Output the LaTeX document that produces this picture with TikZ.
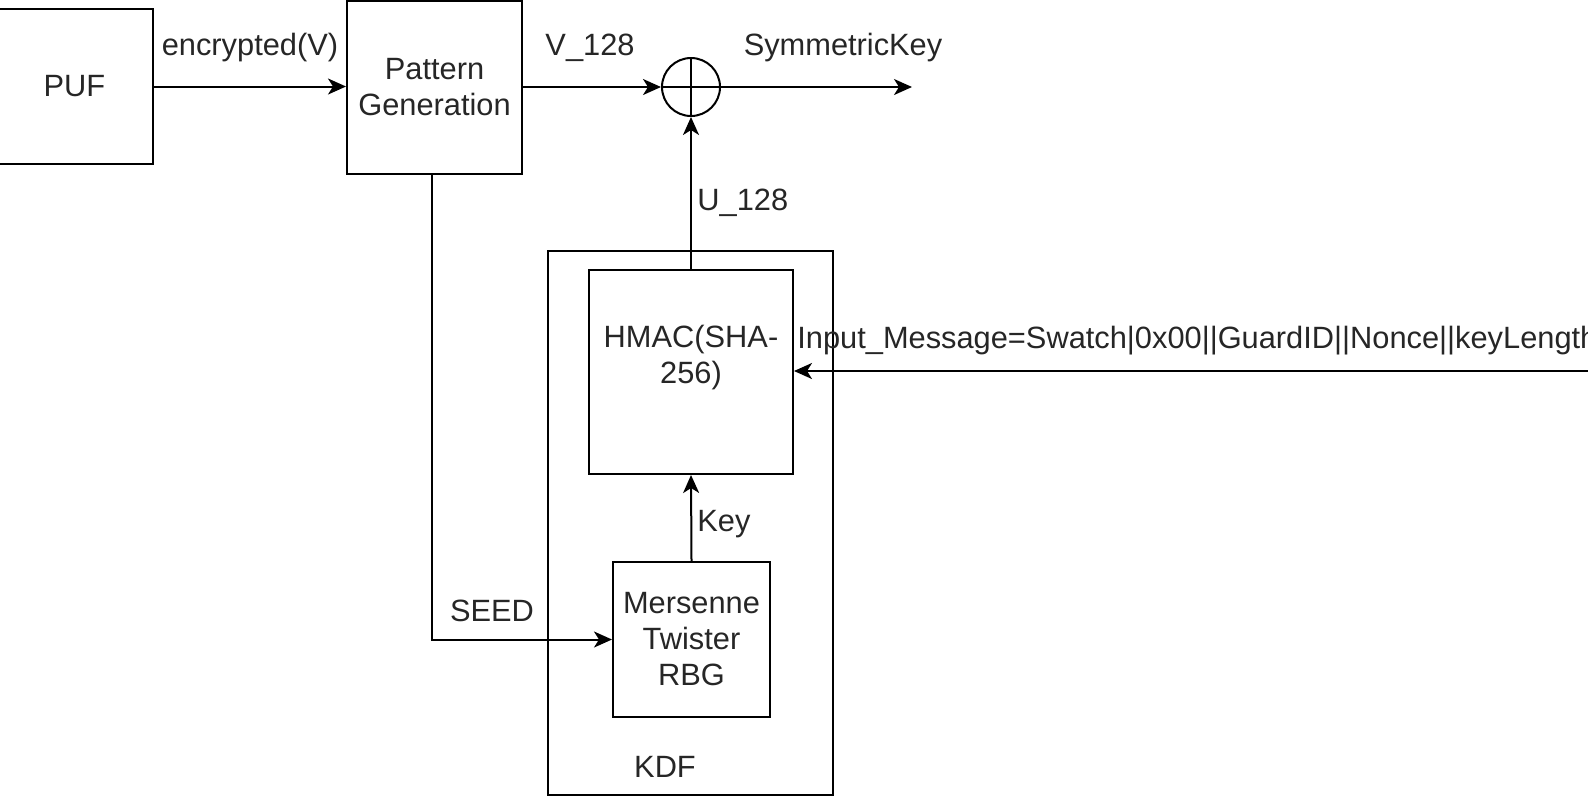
\documentclass[tikz,border=0pt]{standalone}
\usepackage{fontspec}
\setmainfont{Liberation Sans}
\usetikzlibrary{arrows.meta}
\begin{document}
\begin{tikzpicture}[x=0.5pt,y=-0.5pt,
  box/.style={draw, line width=1pt, inner sep=0pt, align=center, font=\fontsize{15.4}{18}\selectfont, text=black!85},
  lbl/.style={inner sep=0pt, font=\fontsize{15.4}{18}\selectfont, text=black!85},
  conn/.style={line width=1pt, -{Stealth[length=9pt,width=8pt,inset=2.5pt]}}
]
\useasboundingbox (0,0) rectangle (1588,810);
\clip (0,0) rectangle (1588,810);
\node[box, minimum width=78.5pt, minimum height=77.5pt] (puf) at (74.5,86.5) {PUF};
\node[box, minimum width=87.5pt, minimum height=86.5pt] (pg) at (434.5,87.5) {Pattern\\Generation};
\node[draw, line width=1pt, circle, minimum size=29pt, inner sep=0pt] (xor) at (691,87) {};
\draw[line width=1pt] (xor.north) -- (xor.south) (xor.west) -- (xor.east);
\node[box, minimum width=142.5pt, minimum height=272pt] (kdf) at (690.5,523) {};
\node[box, minimum width=102pt, minimum height=102pt,
      label={[lbl,align=center,yshift=7pt]center:HMAC(SHA-\\256)}] (hmac) at (691,372) {};
\node[box, minimum width=78.5pt, minimum height=77.5pt] (mt) at (691.5,639.5) {Mersenne\\Twister\\RBG};
\coordinate (out) at (912,87);
\coordinate (inr) at (1600,371);
\draw[conn] (puf.east) -- (puf.east -| pg.west);
\draw[conn] (pg.east |- xor) -- (xor.west);
\draw[conn] (xor.east) -- (out);
\draw[conn] (hmac.north) -- (xor.south);
\draw[conn] (mt.north) -- (hmac.south);
\draw[conn] ([xshift=-1.25pt]pg.south) |- (mt.west);
\draw[conn] (inr) -- (hmac.east |- inr);
\node[lbl] (l1) at (250,48) {encrypted(V)};
\node[lbl] (l2) at (590,48) {V\_128};
\node[lbl] (l3) at (843,48) {SymmetricKey};
\node[lbl, anchor=west] (l4) at (697,203) {U\_128};
\node[lbl, anchor=west] (l5) at (697,524) {Key};
\node[lbl] (l6) at (492,611) {SEED};
\node[lbl] (l7) at (665,767) {KDF};
\node[lbl, anchor=west] (l8) at (797,341) {Input\_Message=Swatch|0x00||GuardID||Nonce||keyLength};
\end{tikzpicture}
\end{document}
